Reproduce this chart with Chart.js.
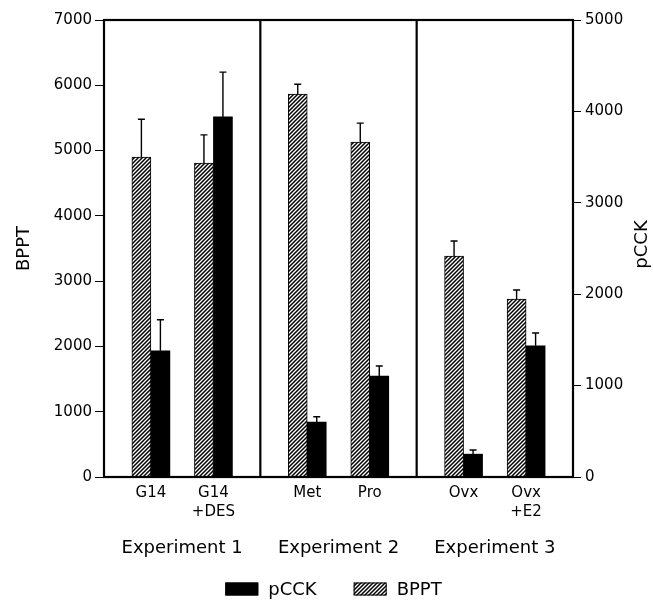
<!DOCTYPE html>
<html>
<head>
<meta charset="utf-8">
<script src="https://cdn.jsdelivr.net/npm/chart.js@4.4.0/dist/chart.umd.min.js"></script>
<style>
  html, body { margin: 0; padding: 0; background: #fff; }
  canvas { display: block; }
</style>
</head>
<body>
<canvas id="expChart" width="653" height="601"></canvas>
<script>
// values
const conditions = [['G14'], ['G14', '+DES'], ['Met'], ['Pro'], ['Ovx'], ['Ovx', '+E2']];
const experiments = ['Experiment 1', 'Experiment 2', 'Experiment 3'];
const experimentOf = [0, 0, 1, 1, 2, 2];
const bpptValues = [4900, 4810, 5865, 5130, 3385, 2725];
const bpptErrors = [580, 430, 150, 290, 230, 140];
const pcckValues = [1380, 3940, 600, 1105, 250, 1435];
const pcckErrors = [340, 490, 60, 110, 45, 140];
const bpptTicks = [0, 1000, 2000, 3000, 4000, 5000, 6000, 7000];
const pcckTicks = [0, 1000, 2000, 3000, 4000, 5000];

const FONT = 'DejaVu Sans';
const canvas = document.getElementById('expChart');
const ctx = canvas.getContext('2d');

// "////" hatch for BPPT
function makeHatch() {
  const c = document.createElement('canvas');
  c.width = 4; c.height = 4;
  const g = c.getContext('2d');
  g.fillStyle = '#fff';
  g.fillRect(0, 0, 4, 4);
  g.strokeStyle = '#000';
  g.lineWidth = 1.5;
  g.beginPath();
  g.moveTo(0, 4); g.lineTo(4, 0);
  g.moveTo(-1, 1); g.lineTo(1, -1);
  g.moveTo(3, 5); g.lineTo(5, 3);
  g.stroke();
  return ctx.createPattern(c, 'repeat');
}
const hatch = makeHatch();

// each experiment takes one unit on x, two conditions inside it
const xPos = conditions.map((c, i) => experimentOf[i] + (i % 2 === 0 ? 0.3 : 0.7));
const expPos = experiments.map((e, i) => i + 0.5);

const errorBars = {
  id: 'errorBars',
  afterDatasetsDraw(chart) {
    const {ctx} = chart;
    chart.data.datasets.forEach((ds, di) => {
      const meta = chart.getDatasetMeta(di);
      const scale = chart.scales[ds.yAxisID];
      meta.data.forEach((bar, i) => {
        const top = scale.getPixelForValue(ds.data[i].y + ds.errors[i]);
        ctx.save();
        ctx.strokeStyle = '#000';
        ctx.lineWidth = 1.4;
        ctx.beginPath();
        ctx.moveTo(bar.x, bar.y);
        ctx.lineTo(bar.x, top);
        ctx.moveTo(bar.x - 3.5, top);
        ctx.lineTo(bar.x + 3.5, top);
        ctx.stroke();
        ctx.restore();
      });
    });
  }
};

const frame = {
  id: 'frame',
  afterDatasetsDraw(chart) {
    const {ctx, chartArea: a} = chart;
    const x = chart.scales.x;
    ctx.save();
    ctx.strokeStyle = '#000';
    ctx.lineWidth = 2.2;
    ctx.strokeRect(a.left, a.top, a.right - a.left, a.bottom - a.top);
    [1, 2].forEach(v => {
      const px = x.getPixelForValue(v);
      ctx.beginPath();
      ctx.moveTo(px, a.top);
      ctx.lineTo(px, a.bottom);
      ctx.stroke();
    });
    ctx.restore();
  }
};

// right axis title reads bottom-to-top, and a legend with wide spacing
const extras = {
  id: 'extras',
  afterDraw(chart) {
    const {ctx, chartArea: a} = chart;
    ctx.save();
    ctx.fillStyle = '#000';
    ctx.font = '18px "' + FONT + '"';
    ctx.textAlign = 'center';
    ctx.textBaseline = 'middle';
    ctx.translate(642, (a.top + a.bottom) / 2 - 4);
    ctx.rotate(-Math.PI / 2);
    ctx.fillText('pCCK', 0, 0);
    ctx.restore();

    const items = [
      {text: 'pCCK', fill: '#000'},
      {text: 'BPPT', fill: hatch}
    ];
    ctx.save();
    ctx.font = '18px "' + FONT + '"';
    ctx.textBaseline = 'middle';
    const boxW = 33, boxH = 13, gap = 10, between = 37;
    const widths = items.map(it => boxW + gap + ctx.measureText(it.text).width);
    const total = widths.reduce((s, w) => s + w, 0) + between;
    let cx = chart.width / 2 + 7 - total / 2;
    const cy = 589;
    items.forEach((it, i) => {
      ctx.fillStyle = it.fill;
      ctx.fillRect(cx, cy - boxH / 2, boxW, boxH);
      ctx.strokeStyle = '#000';
      ctx.lineWidth = 1;
      ctx.strokeRect(cx + 0.5, cy - boxH / 2 + 0.5, boxW - 1, boxH - 1);
      ctx.fillStyle = '#000';
      ctx.fillText(it.text, cx + boxW + gap, cy + 1);
      cx += widths[i] + between;
    });
    ctx.restore();
  }
};

new Chart(ctx, {
  type: 'bar',
  data: {
    datasets: [{
      label: 'BPPT',
      data: bpptValues.map((v, i) => ({x: xPos[i], y: v})),
      errors: bpptErrors,
      yAxisID: 'y',
      xAxisID: 'x',
      backgroundColor: hatch,
      borderColor: '#000',
      borderWidth: 1
    }, {
      label: 'pCCK',
      data: pcckValues.map((v, i) => ({x: xPos[i], y: v})),
      errors: pcckErrors,
      yAxisID: 'y1',
      xAxisID: 'x',
      backgroundColor: '#000',
      borderColor: '#000',
      borderWidth: 0
    }]
  },
  options: {
    responsive: false,
    animation: false,
    barThickness: 19,
    layout: { padding: { left: 0, right: 0, top: 20, bottom: 41 } },
    plugins: {
      legend: { display: false },
      tooltip: { enabled: false }
    },
    scales: {
      x: {
        type: 'linear',
        min: 0, max: 3,
        offset: false,
        weight: 0,
        grid: { display: false, drawTicks: false, offset: false },
        border: { display: false },
        afterBuildTicks: scale => { scale.ticks = xPos.map(v => ({value: v})); },
        afterFit: scale => { scale.height = 53; },
        ticks: {
          autoSkip: false,
          maxRotation: 0,
          padding: 6,
          color: '#000',
          font: { family: FONT, size: 15, lineHeight: 1.3 },
          callback: (v, i) => conditions[i]
        }
      },
      x2: {
        type: 'linear',
        position: 'bottom',
        display: true,
        min: 0, max: 3,
        offset: false,
        weight: 1,
        grid: { display: false, drawTicks: false },
        border: { display: false },
        afterBuildTicks: scale => { scale.ticks = expPos.map(v => ({value: v})); },
        afterFit: scale => { scale.height = 30; },
        ticks: {
          autoSkip: false,
          maxRotation: 0,
          padding: 8,
          color: '#000',
          font: { family: FONT, size: 18 },
          callback: (v, i) => experiments[i]
        }
      },
      y: {
        position: 'left',
        min: 0, max: 7000,
        afterBuildTicks: scale => { scale.ticks = bpptTicks.map(v => ({value: v})); },
        afterFit: scale => { scale.width = 104; },
        grid: { drawOnChartArea: false, tickLength: 9, tickColor: '#000', tickWidth: 1 },
        border: { display: false },
        ticks: {
          color: '#000',
          padding: 3,
          font: { family: FONT, size: 15 },
          callback: v => String(v)
        },
        title: {
          display: true,
          text: 'BPPT',
          color: '#000',
          padding: { top: 14, bottom: 0 },
          font: { family: FONT, size: 18 }
        }
      },
      y1: {
        position: 'right',
        min: 0, max: 5000,
        afterBuildTicks: scale => { scale.ticks = pcckTicks.map(v => ({value: v})); },
        afterFit: scale => { scale.width = 80; },
        grid: { drawOnChartArea: false, tickLength: 8, tickColor: '#000', tickWidth: 1 },
        border: { display: false },
        ticks: {
          color: '#000',
          padding: 4,
          font: { family: FONT, size: 15 },
          callback: v => String(v)
        }
      }
    }
  },
  plugins: [errorBars, frame, extras]
});
</script>
</body>
</html>
